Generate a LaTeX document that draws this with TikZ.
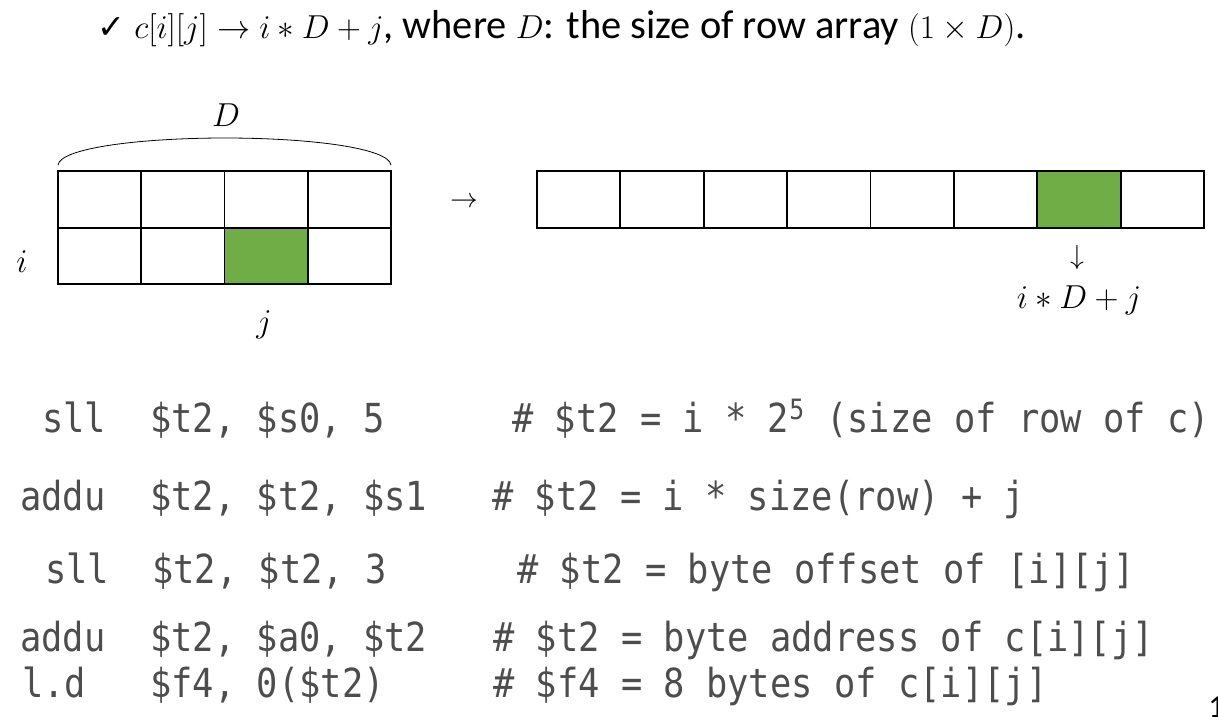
\documentclass[tikz,border=0pt]{standalone}
\usepackage{fontspec}
\setmainfont{Carlito}
\newfontfamily\codefont[FakeStretch=0.885]{DejaVu Sans Mono}
\newfontfamily\symfont{DejaVu Sans}
\definecolor{cellgreen}{HTML}{70AD47}
\definecolor{codegray}{HTML}{4D4D4D}
\begin{document}
\begin{tikzpicture}[x=0.75pt,y=-0.75pt,
  cell/.style={draw=black,line width=1.3pt,minimum width=62.5pt,minimum height=42.5pt,inner sep=0pt,outer sep=0pt},
  hot/.style={cell,fill=cellgreen},
  code/.style={anchor=base west,inner sep=0pt,font=\codefont\fontsize{30}{36}\selectfont,text=codegray},
  lbl/.style={inner sep=0pt,font=\fontsize{24}{28}\selectfont},
  arr/.style={inner sep=0pt,font=\fontsize{22}{26}\selectfont}]
\useasboundingbox (0,0) rectangle (1218,726);
% title line
\node[anchor=base west,inner sep=0pt,font=\fontsize{30.3}{34}\selectfont] (title) at (97,38)
  {{\symfont\fontsize{25}{28}\selectfont ✓}~$c[i][j]\rightarrow i\ast D+j$, where $D$: the size of row array $(1\times D)$.};
% left 2D grid
\foreach \r/\y in {1/199.5,2/256}{
  \foreach \c in {1,...,4}{
    \node[cell] (L\r\c) at ({58+83.25*(\c-0.5)},\y) {};
  }
}
\node[hot] (L23) at ({58+83.25*2.5},256) {};
\path (L11.north west) ++(0,-6) coordinate (bl)
  (L14.north east) ++(0,-6) coordinate (br);
\draw[line width=0.6pt] (bl) .. controls (60,148) and (140,138) .. (225,138)
  .. controls (310,138) and (389,148) .. (br);
\node[lbl] (Dlbl) at (226,115) {$D$};
\node[lbl] (ilbl) at (22,262) {$i$};
\node[lbl] (jlbl) at (264,325) {$j$};
\node[arr] (rarr) at (464,202) {$\rightarrow$};
% right 1D array
\foreach \c in {1,...,8}{
  \node[cell] (R\c) at ({537+83.375*(\c-0.5)},199.5) {};
}
\node[hot] (R7) at ({537+83.375*6.5},199.5) {};
\node[arr] (darr) at (1077,258) {$\downarrow$};
\node[lbl] (idx) at (1079,300) {$i\ast D+j$};
% code
\node[code] (m1) at (42,432) {sll};
\node[code] (o1) at (150,432) {\$t2, \$s0, 5};
\node[code] (c1) at (512,432) {\# \$t2 = i * 2\textsuperscript{5} (size of row of c)};
\node[code] (m2) at (20,510) {addu};
\node[code] (o2) at (150,510) {\$t2, \$t2, \$s1};
\node[code] (c2) at (492,510) {\# \$t2 = i * size(row) + j};
\node[code] (m3) at (45,583) {sll};
\node[code] (o3) at (152,583) {\$t2, \$t2, 3};
\node[code] (c3) at (517,583) {\# \$t2 = byte offset of [i][j]};
\node[code] (m4) at (20,651) {addu};
\node[code] (o4) at (150,651) {\$t2, \$a0, \$t2};
\node[code] (c4) at (493,651) {\# \$t2 = byte address of c[i][j]};
\node[code] (m5) at (22,697) {l.d};
\node[code] (o5) at (150,697) {\$f4, 0(\$t2)};
\node[code] (c5) at (493,697) {\# \$f4 = 8 bytes of c[i][j]};
% page number (cut off at the edge, as in the reference)
\node[anchor=base west,inner sep=0pt,font=\fontsize{24}{28}\selectfont] (pg) at (1208,717) {1};
\end{tikzpicture}
\end{document}
